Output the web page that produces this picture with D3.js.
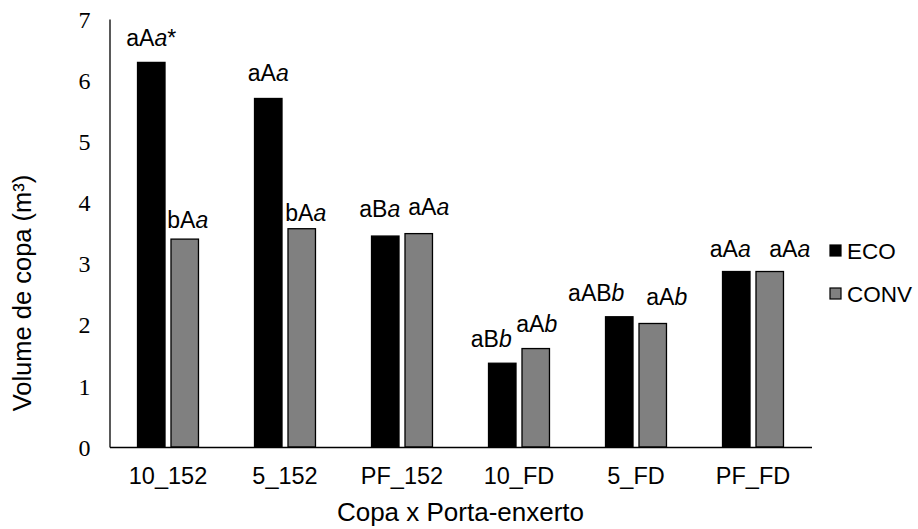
<!DOCTYPE html>
<html>
<head>
<meta charset="utf-8">
<script src="https://cdn.jsdelivr.net/npm/d3@7"></script>
<style>
  html, body { margin: 0; padding: 0; background: #fff; }
  svg { display: block; }
</style>
</head>
<body>
<svg id="chart" width="918" height="529"></svg>
<script>
// Crown volume by scion x rootstock combination, two production systems
const categories = ["10_152", "5_152", "PF_152", "10_FD", "5_FD", "PF_FD"];
const seriesNames = ["ECO", "CONV"];
const ecoValues  = [6.29, 5.70, 3.45, 1.37, 2.13, 2.87];
const convValues = [3.40, 3.57, 3.49, 1.61, 2.02, 2.87];
const ecoLetters  = ["aAa*", "aAa", "aBa", "aBb", "aABb", "aAa"];
const convLetters = ["bAa", "bAa", "aAa", "aAb", "aAb", "aAa"];
const yTicks = [0, 1, 2, 3, 4, 5, 6, 7];

const svg = d3.select("#chart");
const sans = "Arial, 'Liberation Sans', sans-serif";
const serif = "'Times New Roman', 'Liberation Serif', serif";

const plotLeft = 109.5, plotRight = 811.5, plotTop = 19, plotBottom = 447;

const x = d3.scaleBand().domain(categories).range([plotLeft, plotRight])
  .paddingInner(0.479).paddingOuter(0.2395);
const xs = d3.scaleBand().domain(seriesNames).range([0, x.bandwidth()])
  .paddingInner(0.179).paddingOuter(0);
const y = d3.scaleLinear().domain([0, 7]).range([plotBottom, plotTop]);

const fills = { ECO: "#000000", CONV: "#808080" };

// Y axis
const yAxis = svg.append("g").attr("transform", `translate(${plotLeft},0)`)
  .call(d3.axisLeft(y).tickValues(yTicks).tickSize(0).tickSizeOuter(0).tickPadding(19).tickFormat(d3.format("d")));
yAxis.select(".domain").attr("stroke", "#000").attr("stroke-width", 1.3);
yAxis.selectAll("text").attr("font-family", serif).attr("font-size", 24).attr("fill", "#000").attr("dy", "0.34em");

// Bars
const rows = categories.map((c, i) => ({ c, i, ECO: ecoValues[i], CONV: convValues[i] }));
const groups = svg.append("g").selectAll("g").data(rows).join("g")
  .attr("transform", d => `translate(${x(d.c)},0)`);
groups.selectAll("rect").data(d => seriesNames.map(s => ({ s, v: d[s] }))).join("rect")
  .attr("x", d => xs(d.s))
  .attr("width", xs.bandwidth())
  .attr("y", d => y(d.v))
  .attr("height", d => y(0) - y(d.v))
  .attr("fill", d => fills[d.s])
  .attr("stroke", "#000")
  .attr("stroke-width", 1.3);

// X axis
const xAxis = svg.append("g").attr("transform", `translate(0,${plotBottom})`)
  .call(d3.axisBottom(x).tickSize(0).tickSizeOuter(0).tickPadding(0));
xAxis.select(".domain").attr("stroke", "#000").attr("stroke-width", 1.3);
xAxis.selectAll("text").attr("font-family", sans).attr("font-size", 23.5).attr("fill", "#000")
  .attr("y", 37).attr("dy", 0);

// Significance letters above bars; the last lowercase letter is italic
const ecoNudge  = [[0, 16], [0, 17], [-5.5, 19], [-11, 16], [-23, 16], [-6, 15]];
const convNudge = [[3, 11], [4, 8], [10, 19], [1, 17], [14, 18], [20, 15]];
function letterLabel(str, cx, baseY) {
  const idx = str.search(/[a-z](?!.*[a-z])/);
  const t = svg.append("text").attr("x", cx).attr("y", baseY)
    .attr("text-anchor", "middle").attr("font-family", sans).attr("font-size", 23).attr("fill", "#000");
  t.append("tspan").text(str.slice(0, idx));
  t.append("tspan").attr("font-style", "italic").text(str[idx]);
  if (idx < str.length - 1) t.append("tspan").text(str.slice(idx + 1));
}
rows.forEach((d, i) => {
  letterLabel(ecoLetters[i], x(d.c) + xs("ECO") + xs.bandwidth() / 2 + ecoNudge[i][0], y(d.ECO) - ecoNudge[i][1]);
  letterLabel(convLetters[i], x(d.c) + xs("CONV") + xs.bandwidth() / 2 + convNudge[i][0], y(d.CONV) - convNudge[i][1]);
});

// Axis titles
svg.append("text").attr("x", (plotLeft + plotRight) / 2).attr("y", 521)
  .attr("text-anchor", "middle").attr("font-family", sans).attr("font-size", 26).attr("fill", "#000")
  .text("Copa x Porta-enxerto");
svg.append("text").attr("transform", "translate(31,293) rotate(-90)")
  .attr("text-anchor", "middle").attr("font-family", sans).attr("font-size", 25.5).attr("fill", "#000")
  .text("Volume de copa (m³)");

// Legend
const legend = svg.append("g").selectAll("g").data(seriesNames).join("g")
  .attr("transform", (d, i) => `translate(830,${245 + i * 43})`);
legend.append("rect").attr("width", 11).attr("height", 11)
  .attr("fill", d => fills[d]).attr("stroke", "#000").attr("stroke-width", 1.2);
legend.append("text").attr("x", 17).attr("y", 13.5)
  .attr("font-family", sans).attr("font-size", 22.5).attr("fill", "#000").text(d => d);
</script>
</body>
</html>
